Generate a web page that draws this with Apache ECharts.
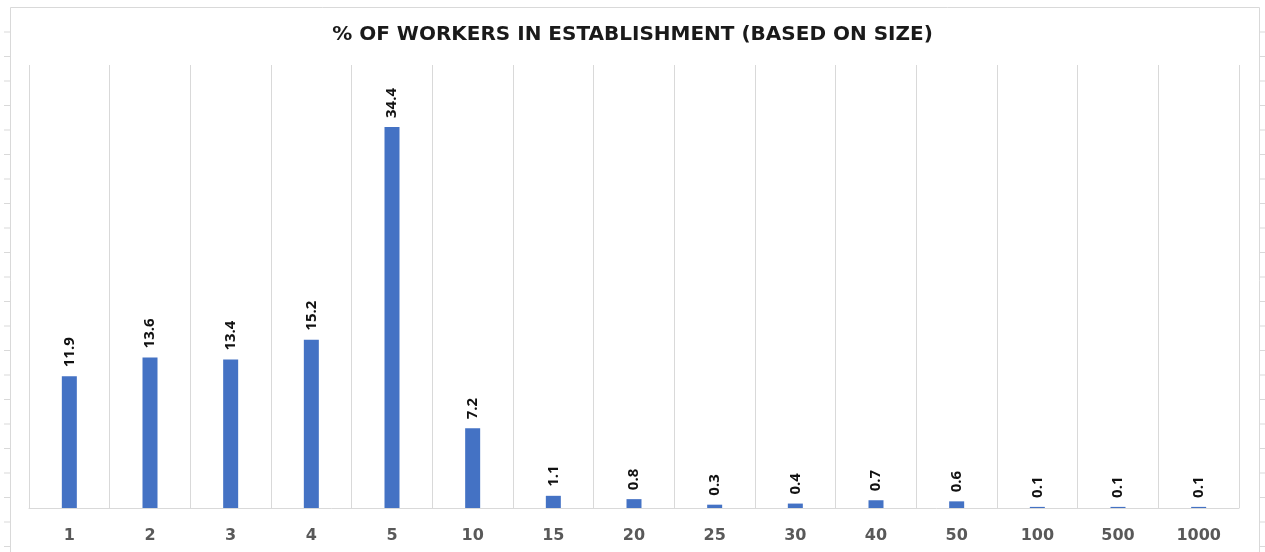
<!DOCTYPE html>
<html><head><meta charset="utf-8">
<script src="https://cdn.jsdelivr.net/npm/echarts@6/dist/echarts.min.js"></script>
<style>html,body{margin:0;padding:0;background:#fff}#c{width:1265px;height:552px}</style>
</head><body><div id="c"></div>
<script>
const categories = ['1','2','3','4','5','10','15','20','25','30','40','50','100','500','1000'];
const percentValues = [11.9,13.6,13.4,15.2,34.4,7.2,1.1,0.8,0.3,0.4,0.7,0.6,0.1,0.1,0.1];
const titleText = '% OF WORKERS IN ESTABLISHMENT (BASED ON SIZE)';

const chart = echarts.init(document.getElementById('c'), null, {renderer:'canvas'});
const leftTicks = [];
for (let y = 32; y < 552; y += 24.5) {
  leftTicks.push({type:'line', shape:{x1:4,y1:y,x2:10,y2:y}, style:{stroke:'#d9d9d9',lineWidth:1}, silent:true});
  leftTicks.push({type:'line', shape:{x1:1259,y1:y,x2:1265,y2:y}, style:{stroke:'#d9d9d9',lineWidth:1}, silent:true});
}
chart.setOption({
  backgroundColor:'#fff',
  animation:false,
  title:{
    text:titleText, left:'center', top:20,
    textStyle:{fontFamily:'DejaVu Sans', fontWeight:'bold', fontSize:20, color:'#1a1a1a'}
  },
  graphic:[
    {type:'rect', shape:{x:10.5,y:7.5,width:1249,height:560}, style:{fill:null, stroke:'#d9d9d9', lineWidth:1}, silent:true}
  ].concat(leftTicks),
  grid:{left:29, right:26, top:65, bottom:44},
  xAxis:{
    type:'category', data:categories,
    axisLine:{lineStyle:{color:'#d9d9d9', width:1}},
    axisTick:{show:false},
    axisLabel:{color:'#595959', fontWeight:'bold', fontSize:16, fontFamily:'DejaVu Sans', margin:20},
    splitLine:{show:true, interval:0, lineStyle:{color:'#d9d9d9', width:1}}
  },
  yAxis:{
    type:'value', min:0, max:40, show:false, splitLine:{show:false}
  },
  series:[{
    type:'bar', data:percentValues, barWidth:15,
    itemStyle:{color:'#4472C4'},
    label:{
      show:true, position:'top', rotate:90, distance:9,
      align:'left', verticalAlign:'middle',
      fontFamily:'Open Sans', fontWeight:'bold', fontSize:15, color:'#111'
    }
  }]
});
</script></body></html>
